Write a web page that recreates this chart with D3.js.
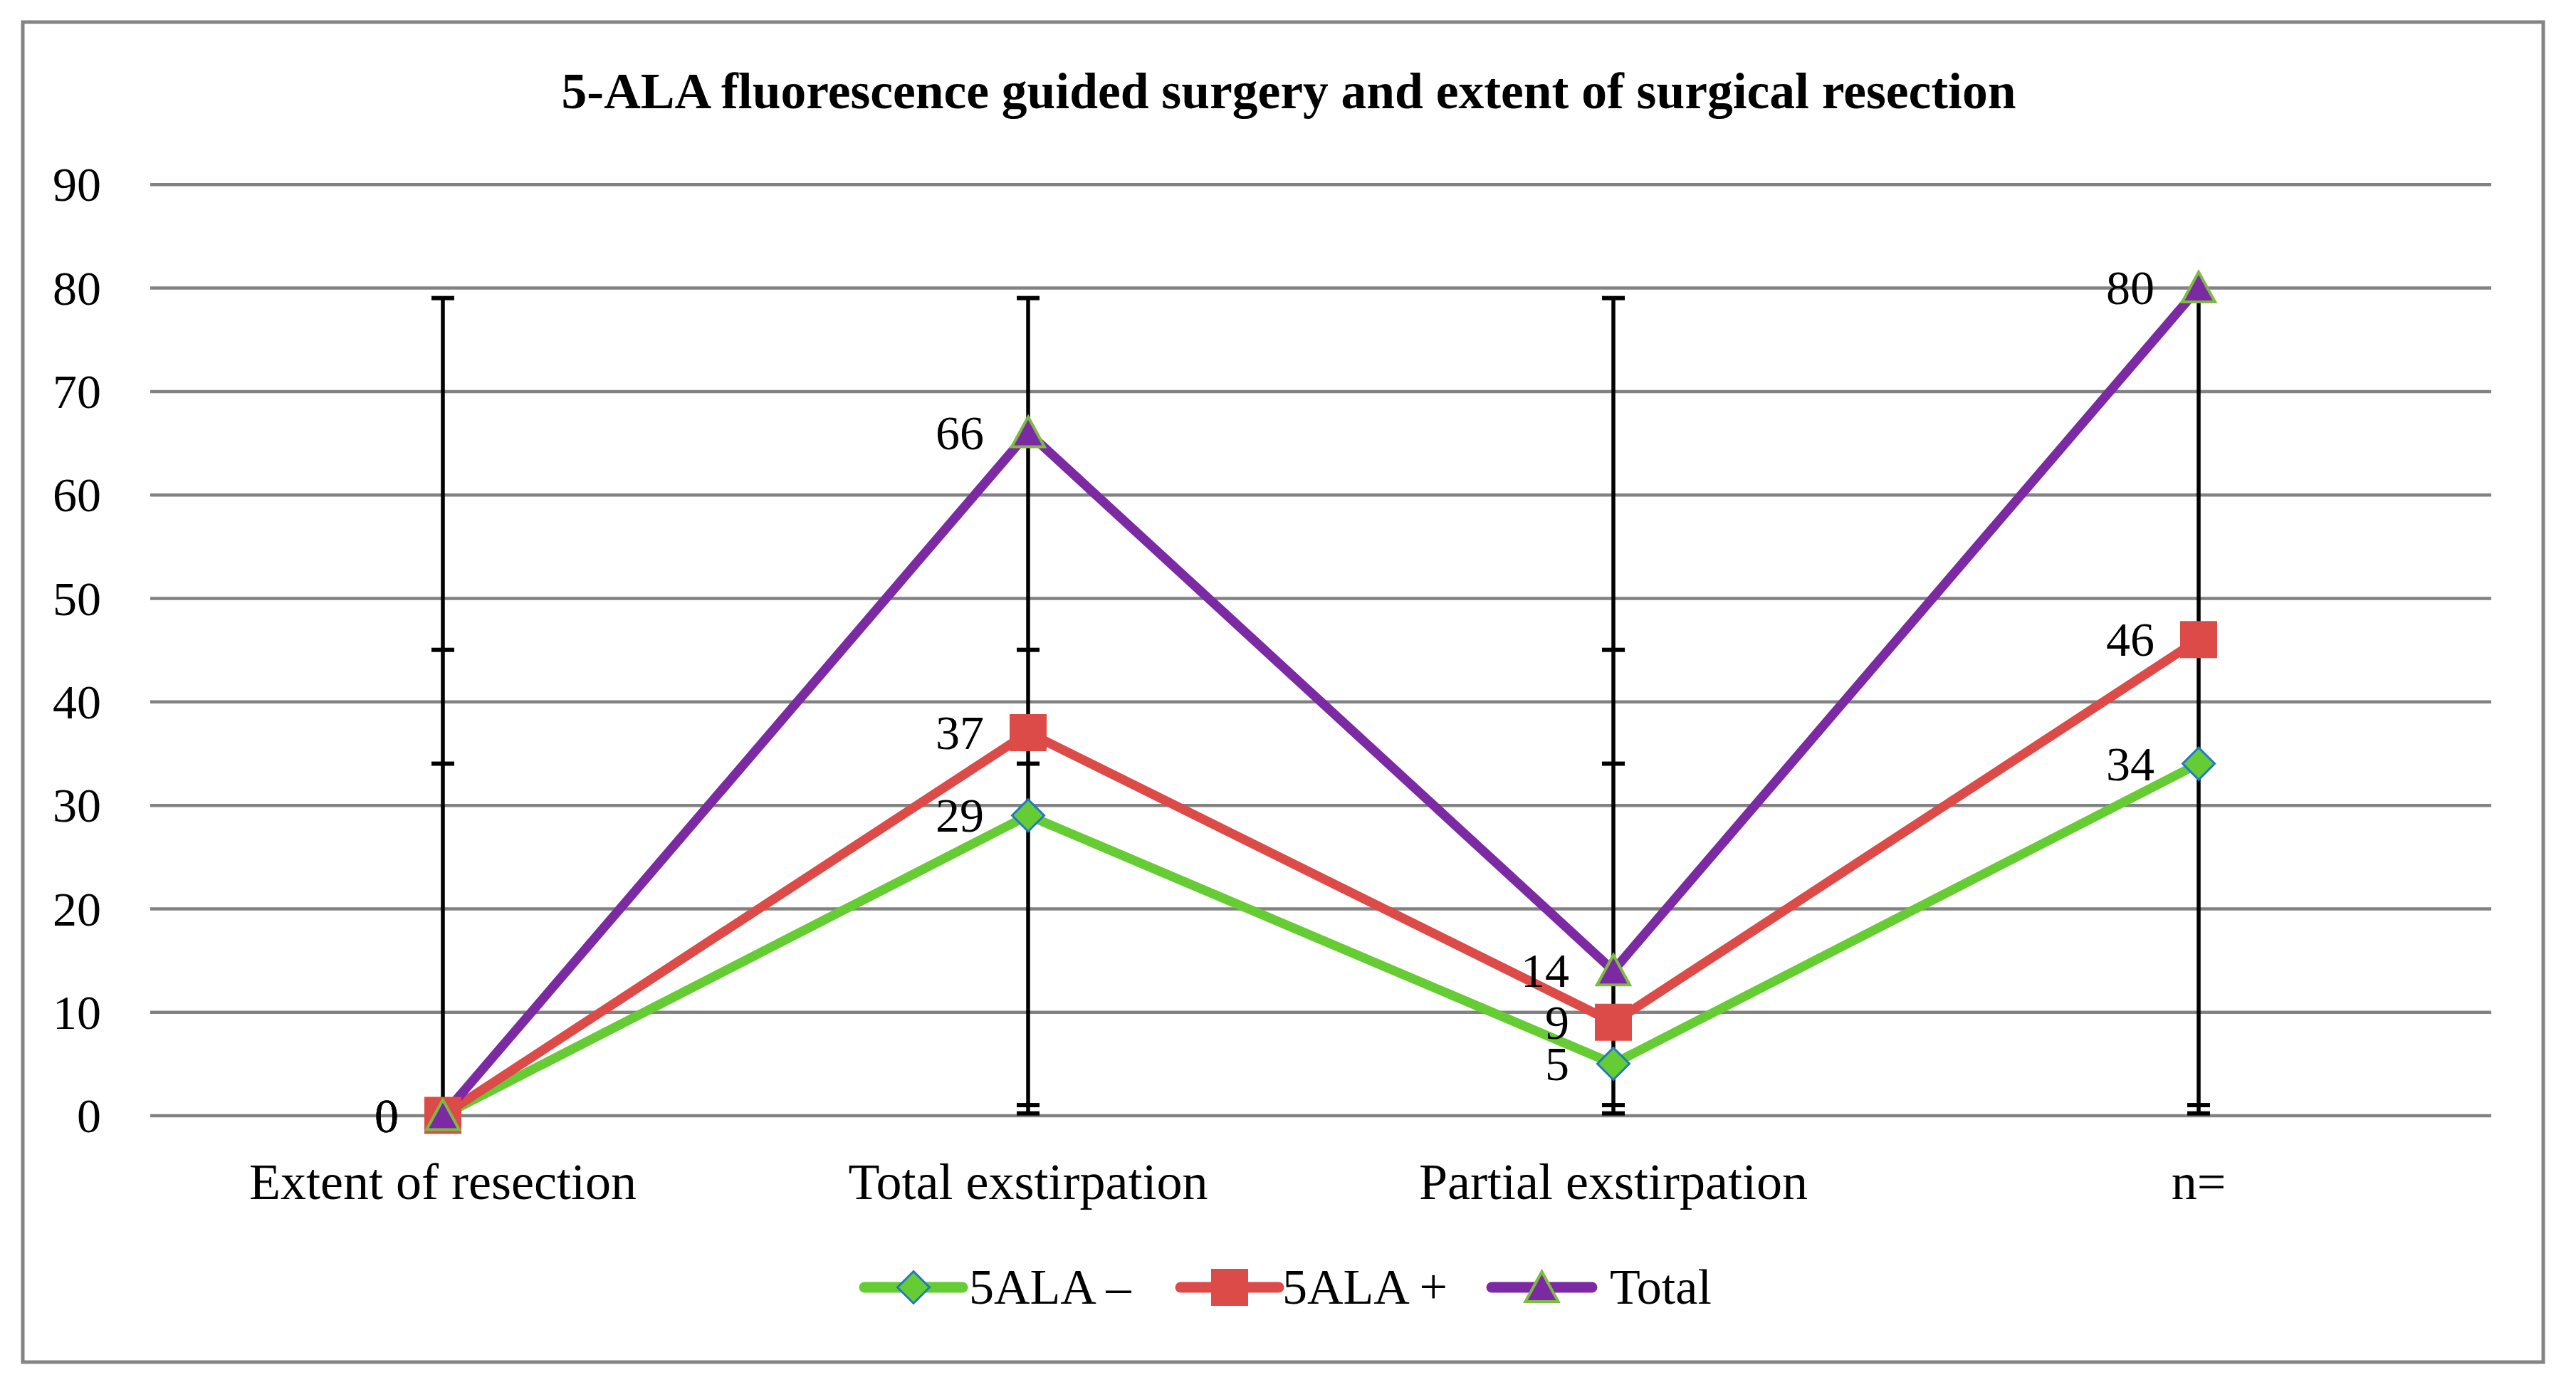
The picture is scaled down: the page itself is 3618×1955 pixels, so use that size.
<!DOCTYPE html>
<html>
<head>
<meta charset="utf-8">
<script src="https://cdn.jsdelivr.net/npm/d3@7/dist/d3.min.js"></script>
<style>
  html, body { margin: 0; padding: 0; background: #ffffff; }
  svg { display: block; }
  text { font-family: "Liberation Serif", "Times New Roman", serif; fill: #000; }
</style>
</head>
<body>
<svg id="chart" width="3618" height="1955"></svg>
<script>
// ---------- data ----------
const title = "5-ALA fluorescence guided surgery and extent of surgical resection";
const categories = ["Extent of resection", "Total exstirpation", "Partial exstirpation", "n="];
const seriesNames = ["5ALA \u2013", "5ALA +", "Total"];
const alaMinus = [0, 29, 5, 34];
const alaPlus = [0, 37, 9, 46];
const totalVals = [0, 66, 14, 80];
const yTicks = [0, 10, 20, 30, 40, 50, 60, 70, 80, 90];
// error bar (same on every category): whisker from low to high, with caps
const errLow = 0.2;
const errHigh = 79;
const errCaps = [79, 45, 34, 1, 0.2];

// ---------- layout ----------
const plot = { left: 211, right: 3499, top: 258.8, bottom: 1566.6 };
const svg = d3.select("#chart");

const x = d3.scaleBand().domain(categories).range([plot.left, plot.right]);
const cx = c => x(c) + x.bandwidth() / 2;
const y = d3.scaleLinear().domain([0, 90]).range([plot.bottom, plot.top]);

const colors = { green: "#66cc33", red: "#dc4b48", purple: "#7b2aa3", blue: "#1f78c8", triGreen: "#7dbb42" };

// outer border
svg.append("rect")
  .attr("x", 32).attr("y", 31)
  .attr("width", 3572 - 32).attr("height", 1913 - 31)
  .attr("fill", "#fff").attr("stroke", "#848484").attr("stroke-width", 5);

// title
svg.append("text")
  .attr("x", 1810).attr("y", 152)
  .attr("text-anchor", "middle")
  .attr("font-weight", "bold")
  .attr("font-size", 71.5)
  .text(title);

// gridlines
const grid = svg.append("g")
  .attr("transform", `translate(${plot.left},0)`)
  .call(d3.axisLeft(y).tickValues(yTicks).tickSize(-(plot.right - plot.left)).tickFormat(""));
grid.select(".domain").remove();
grid.selectAll(".tick line").attr("stroke", "#828282").attr("stroke-width", 4.5);

// y axis labels
const yAxis = svg.append("g")
  .attr("transform", `translate(${plot.left},0)`)
  .call(d3.axisLeft(y).tickValues(yTicks).tickSize(0).tickPadding(69));
yAxis.select(".domain").remove();
yAxis.selectAll(".tick text")
  .attr("font-size", 68)
  .attr("font-family", "Liberation Serif")
  .attr("fill", "#000")
  .attr("dy", "0.34em");

// x axis labels
const xAxis = svg.append("g")
  .attr("transform", `translate(0,${plot.bottom})`)
  .call(d3.axisBottom(x).tickSize(0).tickPadding(0));
xAxis.select(".domain").remove();
xAxis.selectAll(".tick text")
  .attr("font-size", 72)
  .attr("font-family", "Liberation Serif")
  .attr("fill", "#000")
  .attr("dy", 0)
  .attr("y", 1684 - plot.bottom);

// error bars
const eb = svg.append("g");
categories.forEach(c => {
  eb.append("line")
    .attr("x1", cx(c)).attr("x2", cx(c))
    .attr("y1", y(errLow)).attr("y2", y(errHigh))
    .attr("stroke", "#000").attr("stroke-width", 5.5);
  errCaps.forEach(v => {
    eb.append("line")
      .attr("x1", cx(c) - 16).attr("x2", cx(c) + 16)
      .attr("y1", y(v)).attr("y2", y(v))
      .attr("stroke", "#000").attr("stroke-width", 6);
  });
});

// marker shapes
const diamondPath = "M0,-22.5L22.5,0L0,22.5L-22.5,0Z";
const squarePath = "M-26,-26H26V26H-26Z";
const trianglePath = "M0,-22L23,20H-23Z";

const series = [
  { name: seriesNames[0], values: alaMinus, color: colors.green, marker: diamondPath, mFill: colors.green, mStroke: colors.blue, mSW: 3 },
  { name: seriesNames[1], values: alaPlus, color: colors.red, marker: squarePath, mFill: colors.red, mStroke: "none", mSW: 0 },
  { name: seriesNames[2], values: totalVals, color: colors.purple, marker: trianglePath, mFill: colors.purple, mStroke: colors.triGreen, mSW: 4 }
];

const line = d3.line().x((d, i) => cx(categories[i])).y(d => y(d));

series.forEach(s => {
  svg.append("path")
    .datum(s.values)
    .attr("d", line)
    .attr("fill", "none")
    .attr("stroke", s.color)
    .attr("stroke-width", 13)
    .attr("stroke-linejoin", "round")
    .attr("stroke-linecap", "round");
});

series.forEach(s => {
  svg.append("g").selectAll("path")
    .data(s.values)
    .join("path")
    .attr("transform", (d, i) => `translate(${cx(categories[i])},${y(d)})`)
    .attr("d", s.marker)
    .attr("fill", s.mFill)
    .attr("stroke", s.mStroke)
    .attr("stroke-width", s.mSW)
    .attr("stroke-linejoin", "miter");
});

// data labels (drawn after markers)
series.forEach(s => {
  svg.append("g").selectAll("text")
    .data(s.values)
    .join("text")
    .attr("x", (d, i) => cx(categories[i]) - 62)
    .attr("y", d => y(d))
    .attr("dy", "0.34em")
    .attr("text-anchor", "end")
    .attr("font-size", 68)
    .text(d => d);
});

// legend
const legendY = 1808;
const legendItems = [
  { s: series[0], x0: 1214, x1: 1352, tx: 1361 },
  { s: series[1], x0: 1658, x1: 1796, tx: 1801 },
  { s: series[2], x0: 2095, x1: 2236, tx: 2261 }
];
const lg = svg.append("g");
legendItems.forEach(it => {
  lg.append("line")
    .attr("x1", it.x0).attr("x2", it.x1)
    .attr("y1", legendY).attr("y2", legendY)
    .attr("stroke", it.s.color).attr("stroke-width", 15)
    .attr("stroke-linecap", "round");
  lg.append("path")
    .attr("transform", `translate(${(it.x0 + it.x1) / 2},${legendY})`)
    .attr("d", it.s.marker)
    .attr("fill", it.s.mFill)
    .attr("stroke", it.s.mStroke)
    .attr("stroke-width", it.s.mSW);
  lg.append("text")
    .attr("x", it.tx).attr("y", 1831)
    .attr("font-size", 70)
    .text(it.s.name);
});
</script>
</body>
</html>
